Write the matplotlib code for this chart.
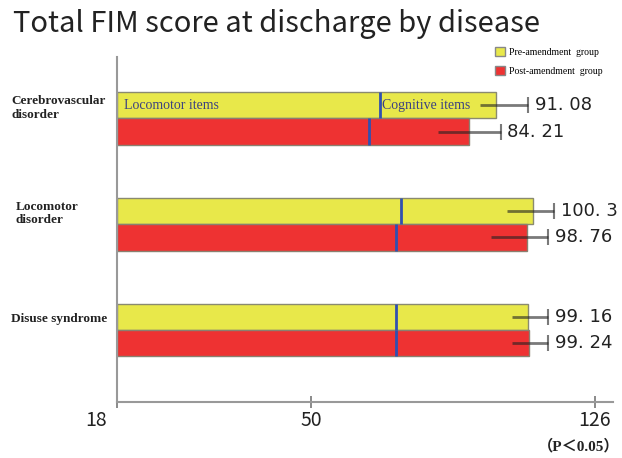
import numpy as np
import matplotlib
matplotlib.use('Agg')
import matplotlib.pyplot as plt
from matplotlib.patches import Patch
from matplotlib.transforms import blended_transform_factory, ScaledTranslation

diseases = ['Cerebrovascular\ndisorder', 'Locomotor\ndisorder', 'Disuse syndrome']
total_pre = [91.08, 100.3, 99.16]
total_post = [84.21, 98.76, 99.24]
motor_pre = [64.8, 69.4, 68.3]
motor_post = [62.6, 68.3, 68.3]
err_lo_pre = [4.2, 6.5, 4.1]
err_hi_pre = [8.0, 8.9, 7.6]
err_lo_post = [6.8, 9.1, 4.2]
err_hi_post = [8.0, 8.0, 7.5]
x_ticks = [18, 50, 126]

# the original axis is not linear: piecewise mapping
scale_vals = [0, 18, 50, 85, 91, 100, 126, 200]
scale_pos = [-109, 0, 193.7, 355.7, 378.4, 414.5, 477.4, 655]

def fwd(x):
    return np.interp(x, scale_vals, scale_pos)

def inv(y):
    return np.interp(y, scale_pos, scale_vals)

yellow = '#E8E84A'
red = '#EE3232'
gothic = ['Noto Sans CJK JP', 'DejaVu Sans']
serif = ['Liberation Serif', 'Noto Sans CJK JP']

fig = plt.figure(figsize=(6.22, 4.58), dpi=100)
ax = fig.add_axes([117.3 / 622, 1 - 401.7 / 458, 495.4 / 622, 344.7 / 458])
ax.set_xscale('function', functions=(fwd, inv))

pos = np.arange(len(diseases))
h = 0.25
y_pre = pos - h / 2
y_post = pos + h / 2

ax.barh(y_pre, np.array(total_pre) - 18, left=18, height=h, color=yellow,
        edgecolor='#8a8a70', linewidth=1, zorder=2)
ax.barh(y_post, np.array(total_post) - 18, left=18, height=h, color=red,
        edgecolor='#8a8070', linewidth=1, zorder=2)

# boundary between locomotor and cognitive items
ax.vlines(motor_pre, y_pre - h / 2, y_pre + h / 2, color='#3050B0', lw=2, zorder=3)
ax.vlines(motor_post, y_post - h / 2, y_post + h / 2, color='#3050B0', lw=2, zorder=3)

for ys, vals, lo, hi in [(y_pre, total_pre, err_lo_pre, err_hi_pre),
                         (y_post, total_post, err_lo_post, err_hi_post)]:
    for y, v, l, u in zip(ys, vals, lo, hi):
        ax.plot([v - l, v + u], [y, y], color='#222222', alpha=0.6, lw=2, zorder=4,
                solid_capstyle='butt')
        ax.plot(v + u, y, marker='|', ms=11, mew=1.5, color='#222222', alpha=0.6, zorder=4)
        ax.annotate(f'{v:g}'.replace('.', '. '), (v + u, y), xytext=(5, 0),
                    textcoords='offset points', va='center', ha='left',
                    fontsize=13, family='DejaVu Sans', color='#222222')

ax.annotate('Locomotor items', (18, y_pre[0]), xytext=(5, 0), textcoords='offset points',
            va='center', ha='left', fontsize=10, family=serif, color='#3c4280', zorder=5)
ax.annotate('Cognitive items', (motor_pre[0], y_pre[0]), xytext=(2, 0), textcoords='offset points',
            va='center', ha='left', fontsize=10, family=serif, color='#3c4280', zorder=5)

trans = blended_transform_factory(fig.transFigure, ax.transData)
for name, p, lx in zip(diseases, pos, [11, 16, 11]):
    ax.text(lx / 622, p - 0.1, name, transform=trans, ha='left', va='center',
            fontsize=9.5, family=serif, weight='bold', color='#222222', linespacing=1.2)

ax.set_xlim(18, 133.5)
ax.set_ylim(2.678, -0.58)
ax.set_xticks(x_ticks)
ax.set_xticklabels([str(t) for t in x_ticks], fontsize=14, family=gothic, color='#222222')
ax.tick_params(axis='x', direction='inout', length=8, width=1.2, color='#777777', pad=2)
lab = ax.get_xticklabels()[0]
lab.set_ha('right')
lab.set_transform(lab.get_transform() + ScaledTranslation(-0.1, 0, fig.dpi_scale_trans))
ax.set_yticks([])
for s in ['top', 'right']:
    ax.spines[s].set_visible(False)
for s in ['left', 'bottom']:
    ax.spines[s].set_color('#999999')
    ax.spines[s].set_linewidth(1.5)

fig.text(13 / 622, 1 - 31.7 / 458, 'Total FIM score at discharge by disease',
         fontsize=21, family=gothic, color='#222222', va='baseline', ha='left')

handles = [Patch(facecolor=yellow, edgecolor='#888888', label='Pre-amendment  group'),
           Patch(facecolor=red, edgecolor='#888888', label='Post-amendment  group')]
fig.legend(handles=handles, loc='upper left', bbox_to_anchor=(495 / 622, 1 - 47 / 458),
           frameon=False, prop={'family': serif, 'size': 7}, handlelength=1.0,
           handleheight=1.0, handletextpad=0.45, labelspacing=1.0, borderpad=0,
           borderaxespad=0)

fig.text(619 / 622, 1 - 446 / 458, '（P＜0.05）', fontsize=11, family=serif, weight='bold',
         color='#222222', ha='right', va='center')

fig.savefig('out.png', dpi=100)
